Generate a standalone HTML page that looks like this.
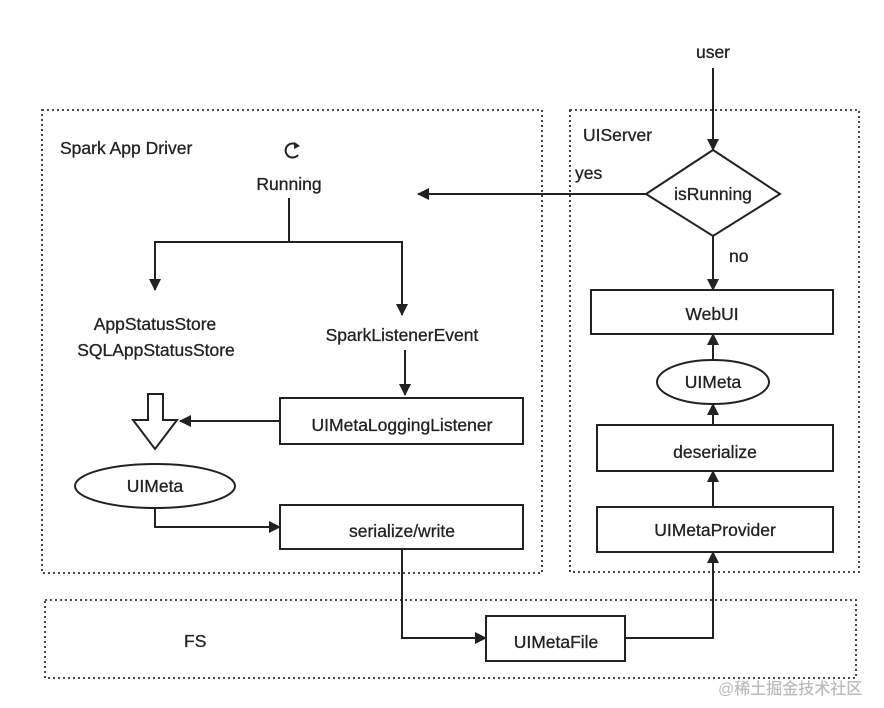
<!DOCTYPE html>
<html><head><meta charset="utf-8"><style>
body{margin:0;background:#fff}
svg text{font-family:"Liberation Sans","Noto Sans CJK SC",sans-serif;font-size:17.5px;fill:#222;font-weight:500;stroke:#222;stroke-width:0.3}
</style></head><body>
<svg width="884" height="703" viewBox="0 0 884 703" xmlns="http://www.w3.org/2000/svg">
<defs><marker id="a" markerWidth="12" markerHeight="12" refX="11" refY="6" orient="auto" markerUnits="userSpaceOnUse"><path d="M0,0 L12,6 L0,12 z" fill="#222"/></marker></defs>
<g fill="none" stroke="#333" stroke-width="1.8" stroke-dasharray="2,3">
<rect x="42" y="110" width="500" height="463"/>
<rect x="570" y="110" width="289" height="462"/>
<rect x="45" y="600" width="811" height="78"/>
</g>
<g fill="none" stroke="#222" stroke-width="2">
<polygon points="713,150 780,194 713,236 646,194"/>
<rect x="591" y="290" width="242" height="44"/>
<ellipse cx="713" cy="382" rx="56" ry="22"/>
<rect x="597" y="425" width="236" height="46"/>
<rect x="597" y="507" width="236" height="45"/>
<rect x="486" y="616" width="139" height="45"/>
<rect x="280" y="398" width="243" height="46"/>
<ellipse cx="155" cy="486" rx="80" ry="22"/>
<rect x="280" y="505" width="243" height="44"/>
<path d="M148,394 H163 V420 H177 L155,449 L133,420 H148 Z"/>
<path d="M713,68 V150" marker-end="url(#a)"/>
<path d="M646,194 H418" marker-end="url(#a)"/>
<path d="M713,236 V290" marker-end="url(#a)"/>
<path d="M713,360 V334" marker-end="url(#a)"/>
<path d="M713,425 V404" marker-end="url(#a)"/>
<path d="M713,507 V471" marker-end="url(#a)"/>
<path d="M625,638 H713 V552" marker-end="url(#a)"/>
<path d="M289,198 V242"/>
<path d="M289,242 H155 V290" marker-end="url(#a)"/>
<path d="M289,242 H402 V315" marker-end="url(#a)"/>
<path d="M405,350 V395" marker-end="url(#a)"/>
<path d="M280,421 H180" marker-end="url(#a)"/>
<path d="M155,508 V527 H280" marker-end="url(#a)"/>
<path d="M402,549 V638 H486" marker-end="url(#a)"/>
<path d="M298,146 A7,7 0 1 0 298,155"/>
</g>
<path d="M294,142 L300,146 L294,149 z" fill="#222"/>
<g text-anchor="middle">
<text x="713" y="58">user</text>
<text x="713" y="200">isRunning</text>
<text x="712" y="320">WebUI</text>
<text x="713" y="388">UIMeta</text>
<text x="715" y="458">deserialize</text>
<text x="715" y="536">UIMetaProvider</text>
<text x="556" y="648">UIMetaFile</text>
<text x="289" y="190">Running</text>
<text x="155" y="330">AppStatusStore</text>
<text x="156" y="356">SQLAppStatusStore</text>
<text x="402" y="341">SparkListenerEvent</text>
<text x="402" y="431">UIMetaLoggingListener</text>
<text x="155" y="492">UIMeta</text>
<text x="402" y="537">serialize/write</text>
</g>
<text x="60" y="154">Spark App Driver</text>
<text x="583" y="141">UIServer</text>
<text x="575" y="179">yes</text>
<text x="729" y="262">no</text>
<text x="184" y="647">FS</text>
<text x="718" y="694" style="font-size:16px;fill:#bbb;stroke:none">@稀土掘金技术社区</text>
</svg>
</body></html>
